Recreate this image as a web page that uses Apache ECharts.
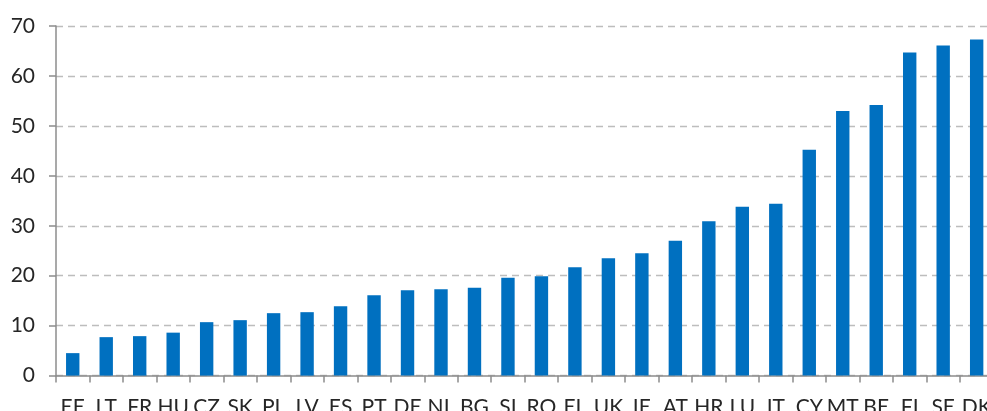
<!DOCTYPE html>
<html>
<head>
<meta charset="utf-8">
<script src="https://cdn.jsdelivr.net/npm/echarts@6/dist/echarts.min.js"></script>
<style>
  html, body { margin: 0; padding: 0; background: #ffffff; }
  #chart { width: 987px; height: 411px; }
</style>
</head>
<body>
<div id="chart"></div>
<script>
// Country codes, sorted by value
var countries = ['EE', 'LT', 'FR', 'HU', 'CZ', 'SK', 'PL', 'LV', 'ES', 'PT', 'DE', 'NL', 'BG', 'SI',
  'RO', 'EL', 'UK', 'IE', 'AT', 'HR', 'LU', 'IT', 'CY', 'MT', 'BE', 'FI', 'SE', 'DK'];

// Value per country
var values = [4.5, 7.7, 7.9, 8.6, 10.7, 11.1, 12.5, 12.7, 13.9, 16.1, 17.1, 17.3, 17.6, 19.6,
  19.9, 21.7, 23.5, 24.5, 27.0, 30.9, 33.8, 34.4, 45.2, 53.0, 54.2, 64.7, 66.1, 67.3];

// Value axis range
var yMin = 0;
var yMax = 70;
var yStep = 10;

var chart = echarts.init(document.getElementById('chart'), null, { renderer: 'canvas' });

var labelFont = 'Lato, "Open Sans", "Liberation Sans", sans-serif';

chart.setOption({
  animation: false,
  backgroundColor: '#ffffff',
  grid: {
    left: 56,
    top: 26,
    width: 937.4,
    height: 349.6,
    containLabel: false,
    outerBoundsMode: 'none'
  },
  xAxis: {
    type: 'category',
    data: countries,
    boundaryGap: true,
    axisLine: { show: true, lineStyle: { color: '#8c8c8c', width: 1.5 } },
    axisTick: { show: true, length: 7, interval: 0, lineStyle: { color: '#8c8c8c', width: 1.5 } },
    axisLabel: {
      interval: 0,
      margin: 21,
      color: '#262626',
      fontSize: 21,
      fontFamily: labelFont
    },
    splitLine: { show: false }
  },
  yAxis: {
    type: 'value',
    min: yMin,
    max: yMax,
    interval: yStep,
    axisLine: { show: true, lineStyle: { color: '#8c8c8c', width: 1.5 } },
    axisTick: { show: true, length: 7, lineStyle: { color: '#8c8c8c', width: 1.5 } },
    axisLabel: {
      margin: 21,
      color: '#262626',
      fontSize: 21,
      fontFamily: labelFont
    },
    splitLine: {
      show: true,
      lineStyle: { color: '#bdbdbd', width: 1.4, type: [7, 5] }
    }
  },
  series: [{
    type: 'bar',
    data: values,
    barWidth: '40%',
    itemStyle: { color: '#0070c0' }
  }]
});
</script>
</body>
</html>
